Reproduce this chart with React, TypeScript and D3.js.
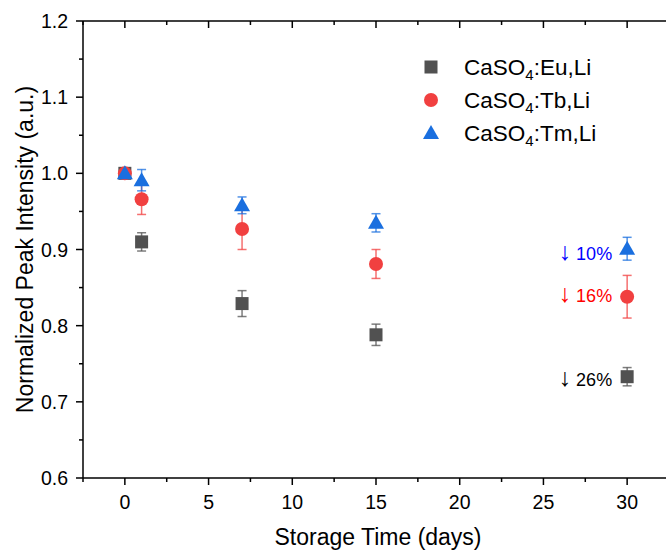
import * as d3 from "d3";

const days = [0, 1, 7, 15, 30];
const euValues = [1.0, 0.91, 0.829, 0.788, 0.733];
const euErrors = [0, 0.012, 0.017, 0.014, 0.012];
const tbValues = [1.0, 0.966, 0.927, 0.881, 0.838];
const tbErrors = [0, 0.02, 0.027, 0.019, 0.028];
const tmValues = [1.0, 0.991, 0.958, 0.935, 0.901];
const tmErrors = [0, 0.014, 0.011, 0.012, 0.015];

const seriesNames = ["Eu", "Tb", "Tm"];
const xTicks = [0, 5, 10, 15, 20, 25, 30];
const yTicks = [0.6, 0.7, 0.8, 0.9, 1.0, 1.1, 1.2];
const drops = ["10%", "16%", "26%"];
const dropLevels = [0.886, 0.831, 0.721];

const W = 666;
const H = 550;
const margin = { top: 21, right: -3, bottom: 72, left: 83 };

const colors = ["#515151", "#F14040", "#1A6FDF"];
const dropColors = ["#0000FF", "#FF0000", "#000000"];
const font = "'Liberation Sans', Arial, sans-serif";

function Marker({ kind, cx, cy, color }: { kind: number; cx: number; cy: number; color: string }) {
  if (kind === 0) return <rect x={cx - 6.5} y={cy - 6.5} width={13} height={13} fill={color} />;
  if (kind === 1) return <circle cx={cx} cy={cy} r={7} fill={color} />;
  return <path d={`M${cx},${cy - 8}L${cx + 8},${cy + 6}L${cx - 8},${cy + 6}Z`} fill={color} />;
}

export default function App() {
  const x = d3.scaleLinear().domain([-2.5, 32.5]).range([margin.left, W - margin.right]);
  const y = d3.scaleLinear().domain([0.6, 1.2]).range([H - margin.bottom, margin.top]);

  const series = [
    { values: euValues, errors: euErrors },
    { values: tbValues, errors: tbErrors },
    { values: tmValues, errors: tmErrors },
  ];

  const xMinor = d3.range(-2.5, 33, 2.5).filter(v => !xTicks.includes(v));
  const yMinor = d3.range(0.65, 1.2, 0.1);

  const x0 = margin.left;
  const x1 = W - margin.right;
  const y0 = H - margin.bottom;
  const y1 = margin.top;

  return (
    <svg width={W} height={H} style={{ position: "absolute", left: 0, top: 0, background: "#fff" }} fontFamily={font}>
      {/* frame */}
      <g stroke="#000" strokeWidth={1.5} fill="none">
        <line x1={x0} x2={x1} y1={y0} y2={y0} />
        <line x1={x0} x2={x1} y1={y1} y2={y1} />
        <line x1={x0} x2={x0} y1={y0} y2={y1} />
        <line x1={x1} x2={x1} y1={y0} y2={y1} />
        {xTicks.map(t => (
          <g key={t}>
            <line x1={x(t)} x2={x(t)} y1={y0} y2={y0 + 7} />
            <line x1={x(t)} x2={x(t)} y1={y1} y2={y1 + 7} />
          </g>
        ))}
        {xMinor.map(t => (
          <g key={t}>
            <line x1={x(t)} x2={x(t)} y1={y0} y2={y0 + 4} />
            <line x1={x(t)} x2={x(t)} y1={y1} y2={y1 + 4} />
          </g>
        ))}
        {yTicks.map(t => (
          <line key={t} x1={x0 - 7} x2={x0} y1={y(t)} y2={y(t)} />
        ))}
        {yMinor.map(t => (
          <line key={t} x1={x0 - 4} x2={x0} y1={y(t)} y2={y(t)} />
        ))}
      </g>

      {/* tick labels */}
      <g fontSize={19.5} fill="#000">
        {xTicks.map(t => (
          <text key={t} x={x(t)} y={y0 + 31} textAnchor="middle">{t}</text>
        ))}
        {yTicks.map(t => (
          <text key={t} x={x0 - 15} y={y(t) + 7} textAnchor="end">{t.toFixed(1)}</text>
        ))}
      </g>

      {/* axis titles */}
      <text x={378} y={545} fontSize={23} textAnchor="middle">Storage Time (days)</text>
      <text transform={`translate(33,${(y0 + y1) / 2}) rotate(-90)`} fontSize={23} textAnchor="middle">
        Normalized Peak Intensity (a.u.)
      </text>

      {/* error bars and markers */}
      {series.map((s, si) => (
        <g key={seriesNames[si]}>
          <g stroke={colors[si]} strokeOpacity={0.75} strokeWidth={1.5}>
            {days.map((d, i) =>
              s.errors[i] > 0 ? (
                <g key={d}>
                  <line x1={x(d)} x2={x(d)} y1={y(s.values[i] - s.errors[i])} y2={y(s.values[i] + s.errors[i])} />
                  <line x1={x(d) - 4.5} x2={x(d) + 4.5} y1={y(s.values[i] - s.errors[i])} y2={y(s.values[i] - s.errors[i])} />
                  <line x1={x(d) - 4.5} x2={x(d) + 4.5} y1={y(s.values[i] + s.errors[i])} y2={y(s.values[i] + s.errors[i])} />
                </g>
              ) : null
            )}
          </g>
          {days.map((d, i) => (
            <Marker key={d} kind={si} cx={x(d)} cy={y(s.values[i])} color={colors[si]} />
          ))}
        </g>
      ))}

      {/* legend */}
      <g fontSize={22.5}>
        {seriesNames.map((n, i) => (
          <g key={n} transform={`translate(431,${67 + i * 33})`}>
            <Marker kind={i} cx={0} cy={0} color={colors[i]} />
            <text x={33} y={8}>
              CaSO<tspan fontSize={15} dy={5}>4</tspan>
              <tspan dy={-5}>:{n},Li</tspan>
            </text>
          </g>
        ))}
      </g>

      {/* decrease annotations */}
      <g fontSize={18} textAnchor="end">
        {drops.map((p, i) => (
          <text key={p} x={x(30) - 15} y={y(dropLevels[i])} fill={dropColors[i]}>
            <tspan fontSize={25}>↓</tspan> {p}
          </text>
        ))}
      </g>
    </svg>
  );
}
